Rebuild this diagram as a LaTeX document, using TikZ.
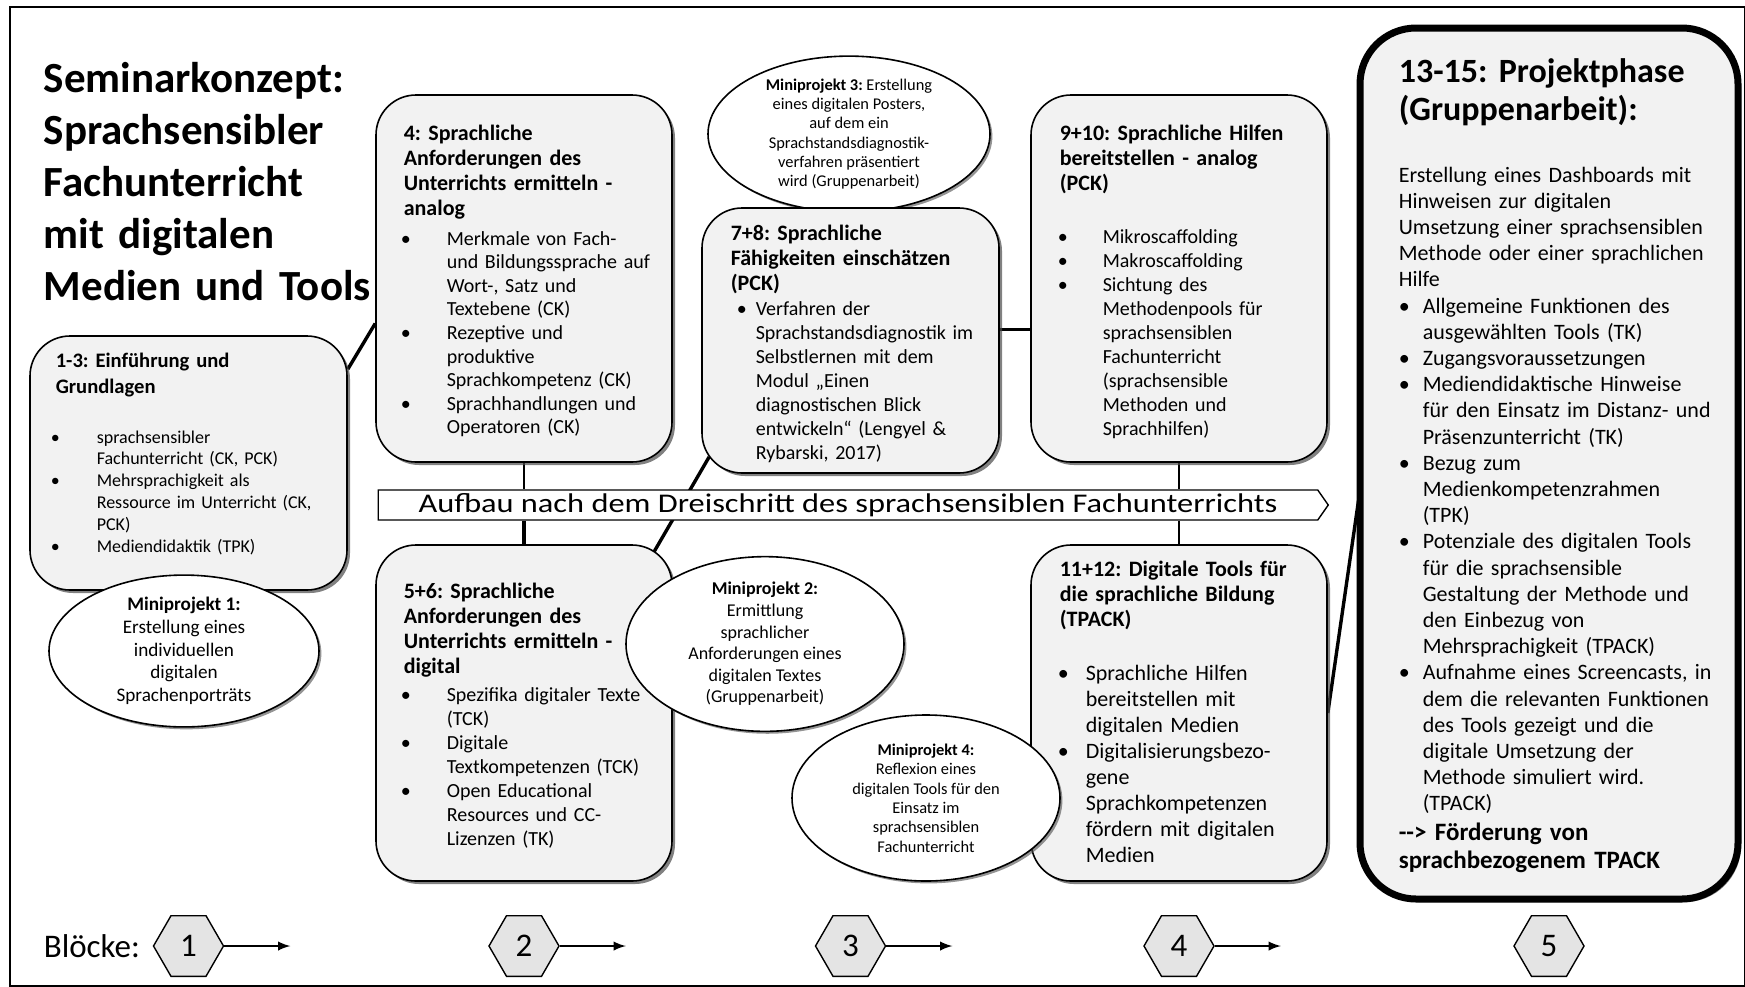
\documentclass[tikz,border=0pt]{standalone}
\usepackage{fontspec}
\setmainfont{Carlito}
\usepackage{graphicx}
\usepackage{tikz}
\usetikzlibrary{arrows,shapes,positioning,shadows,calc,fit,backgrounds}
\usepackage{xcolor}
\definecolor{boxgray}{RGB}{242,242,242}
\definecolor{hexgray}{RGB}{228,228,228}
\newlength{\bulw}
\newcommand{\bpkt}[1]{\makebox[\bulw][l]{\textbullet}#1}
\newcommand{\bweiter}[1]{\hspace*{\bulw}#1}

\begin{document}
\frenchspacing
\begin{tikzpicture}[x=0.5pt, y=-0.5pt, >=latex, thick,
    block/.style={draw, fill=boxgray, rounded corners=20pt, line width=0.8pt, inner sep=0pt,
        drop shadow={shadow xshift=1.5pt, shadow yshift=-1.5pt, opacity=0.7, fill=black!70}},
    mini/.style={draw, ellipse, fill=white, line width=0.8pt, inner sep=0pt, align=center,
        drop shadow={shadow xshift=1.2pt, shadow yshift=-1.2pt, opacity=0.6, fill=black!70}},
    head/.style={anchor=base west, inner sep=0pt, text width=190pt, align=left, font=\fontsize{11}{12.5}\selectfont\bfseries},
    body/.style={anchor=base west, inner sep=0pt, text width=190pt, align=left, font=\fontsize{10}{11.8}\selectfont},
    link/.style={line width=1.7pt},
    hexa/.style={draw, regular polygon, regular polygon sides=6, fill=hexgray, minimum size=35pt, inner sep=0pt, line width=0.7pt, font=\fontsize{16.5}{18}\selectfont}]
    \useasboundingbox (0,0) rectangle (1745,986);

    % title
    \node [anchor=base west, inner sep=0pt, text width=220pt, align=left, font=\fontsize{21.5}{26}\selectfont\bfseries] (titel) at (43,92)
        {Seminarkonzept:\\Sprachsensibler\\Fachunterricht\\mit digitalen\\Medien und Tools};

    % blocks
    \node [block, fit={(30,336) (347,590)}] (b1) {};
    \node [block, fit={(376,95) (672,462)}] (b4) {};
    \node [block, fit={(376,545) (672,881)}] (b56) {};
    \node [mini, minimum width=141pt, minimum height=75pt, font=\fontsize{8.2}{9.6}\selectfont] (m3) at (849,134)
        {\textbf{Miniprojekt 3:} Erstellung\\eines digitalen Posters,\\auf dem ein\\Sprachstandsdiagnostik-\\verfahren präsentiert\\wird (Gruppenarbeit)};
    \node [block, fit={(702,208) (999,473)}] (b78) {};
    \node [block, fit={(1031,95) (1327,462)}] (b910) {};
    \node [block, fit={(1031,545) (1327,881)}] (b1112) {};
    \node [block, line width=3.5pt, rounded corners=28pt, fit={(1360,28) (1738,899)}] (b1315) {};

    % mini projects
    \node [mini, minimum width=135pt, minimum height=66pt, font=\fontsize{9.6}{11.35}\selectfont] (m1) at (184,651)
        {\textbf{Miniprojekt 1:}\\Erstellung eines\\individuellen\\digitalen\\Sprachenporträts};
    \node [mini, minimum width=139pt, minimum height=75pt, font=\fontsize{9}{10.8}\selectfont] (m2) at (765,644)
        {\textbf{Miniprojekt 2:}\\Ermittlung\\sprachlicher\\Anforderungen eines\\digitalen Textes\\(Gruppenarbeit)};
    \node [mini, minimum width=134pt, minimum height=83pt, font=\fontsize{8.2}{9.7}\selectfont] (m4) at (926,798)
        {\textbf{Miniprojekt 4:}\\Reflexion eines\\digitalen Tools für den\\Einsatz im\\sprachsensiblen\\Fachunterricht};

    % texts of the blocks
    \node [head, font=\fontsize{10.3}{13}\selectfont\bfseries] (t1) at (55,367) {1-3: Einführung und\\Grundlagen};
    \node [body, font=\fontsize{9}{10.9}\selectfont] (t1b) at (50,443)
        {\setlength{\bulw}{23pt}\bpkt{sprachsensibler}\\\bweiter{Fachunterricht (CK, PCK)}\\\bpkt{Mehrsprachigkeit als}\\\bweiter{Ressource im Unterricht (CK,}\\\bweiter{PCK)}\\\bpkt{Mediendidaktik (TPK)}};

    \node [head] (t4) at (403,140) {4: Sprachliche\\Anforderungen des\\Unterrichts ermitteln -\\analog};
    \node [body] (t4b) at (400,245)
        {\setlength{\bulw}{23pt}\bpkt{Merkmale von Fach-}\\\bweiter{und Bildungssprache auf}\\\bweiter{Wort-, Satz und}\\\bweiter{Textebene (CK)}\\\bpkt{Rezeptive und}\\\bweiter{produktive}\\\bweiter{Sprachkompetenz (CK)}\\\bpkt{Sprachhandlungen und}\\\bweiter{Operatoren (CK)}};

    \node [head] (t56) at (403,598) {5+6: Sprachliche\\Anforderungen des\\Unterrichts ermitteln -\\digital};
    \node [body, font=\fontsize{10}{12}\selectfont] (t56b) at (400,701)
        {\setlength{\bulw}{23pt}\bpkt{Spezifika digitaler Texte}\\\bweiter{(TCK)}\\\bpkt{Digitale}\\\bweiter{Textkompetenzen (TCK)}\\\bpkt{Open Educational}\\\bweiter{Resources und CC-}\\\bweiter{Lizenzen (TK)}};

    \node [head] (t78) at (730,240) {7+8: Sprachliche\\Fähigkeiten einschätzen\\(PCK)};
    \node [body, font=\fontsize{10}{12.05}\selectfont] (t78b) at (736,315)
        {\setlength{\bulw}{9.5pt}\bpkt{Verfahren der}\\\bweiter{Sprachstandsdiagnostik im}\\\bweiter{Selbstlernen mit dem}\\\bweiter{Modul „Einen}\\\bweiter{diagnostischen Blick}\\\bweiter{entwickeln“ (Lengyel \&}\\\bweiter{Rybarski, 2017)}};

    \node [head] (t910) at (1059,140) {9+10: Sprachliche Hilfen\\bereitstellen - analog\\(PCK)};
    \node [body, font=\fontsize{10}{12}\selectfont] (t910b) at (1057,243)
        {\setlength{\bulw}{22.5pt}\bpkt{Mikroscaffolding}\\\bpkt{Makroscaffolding}\\\bpkt{Sichtung des}\\\bweiter{Methodenpools für}\\\bweiter{sprachsensiblen}\\\bweiter{Fachunterricht}\\\bweiter{(sprachsensible}\\\bweiter{Methoden und}\\\bweiter{Sprachhilfen)}};

    \node [head] (t1112) at (1059,576) {11+12: Digitale Tools für\\die sprachliche Bildung\\(TPACK)};
    \node [body, font=\fontsize{11}{13}\selectfont] (t1112b) at (1057,680)
        {\setlength{\bulw}{14pt}\bpkt{Sprachliche Hilfen}\\\bweiter{bereitstellen mit}\\\bweiter{digitalen Medien}\\\bpkt{Digitalisierungsbezo-}\\\bweiter{gene}\\\bweiter{Sprachkompetenzen}\\\bweiter{fördern mit digitalen}\\\bweiter{Medien}};

    \node [head, font=\fontsize{17}{19}\selectfont\bfseries] (t1315) at (1398,82) {13-15: Projektphase\\(Gruppenarbeit):};
    \node [body, font=\fontsize{11}{13.1}\selectfont] (t1315b) at (1398,182)
        {\setlength{\bulw}{12pt}Erstellung eines Dashboards mit\\Hinweisen zur digitalen\\Umsetzung einer sprachsensiblen\\Methode oder einer sprachlichen\\Hilfe\\
        \bpkt{Allgemeine Funktionen des}\\\bweiter{ausgewählten Tools (TK)}\\\bpkt{Zugangsvoraussetzungen}\\\bpkt{Mediendidaktische Hinweise}\\\bweiter{für den Einsatz im Distanz- und}\\\bweiter{Präsenzunterricht (TK)}\\
        \bpkt{Bezug zum}\\\bweiter{Medienkompetenzrahmen}\\\bweiter{(TPK)}\\\bpkt{Potenziale des digitalen Tools}\\\bweiter{für die sprachsensible}\\\bweiter{Gestaltung der Methode und}\\\bweiter{den Einbezug von}\\\bweiter{Mehrsprachigkeit (TPACK)}\\
        \bpkt{Aufnahme eines Screencasts, in}\\\bweiter{dem die relevanten Funktionen}\\\bweiter{des Tools gezeigt und die}\\\bweiter{digitale Umsetzung der}\\\bweiter{Methode simuliert wird.}\\\bweiter{(TPACK)}};
    \node [head, font=\fontsize{12.5}{14}\selectfont\bfseries] (t1315f) at (1398,840) {-{}-> Förderung von\\sprachbezogenem TPACK};

    % banner
    \node [draw, signal, signal to=east, signal pointer angle=110, fill=white, line width=0.7pt, inner sep=0pt,
        minimum width=475pt, minimum height=15pt] (bn) at (848,505)
        {\scalebox{1.2}[1]{\fontsize{13.5}{14}\selectfont Aufbau nach dem Dreischritt des sprachsensiblen Fachunterrichts}};

    % Bloecke
    \coordinate (reihe) at (0,946);
    \foreach \b/\n in {b1/1,b4/2,b78/3,b910/4,b1315/5}
        \node [hexa] (h\n) at (\b |- reihe) {\n};
    \node [left=6pt of h1, inner sep=0pt, font=\fontsize{16.5}{18}\selectfont] (bl) {Blöcke:};
    \foreach \n in {1,...,4} {
        \path (h\n.east) ++(66,0) coordinate (p\n);
        \draw [->, line width=1.1pt] (h\n.east) -- (p\n);
    }

    % connectors
    \begin{scope}[on background layer]
        \draw [line width=0.6pt] (10,7) rectangle (1745,986);
        \draw [link] ($(b1.north east)+(0,34)$) -- ($(b4.west)+(0,45)$);
        \draw [line width=0.7pt] (b4.south) -- (b4.south |- bn.north);
        \draw [link] (bn.south -| b56.north) -- (b56.north);
        \draw [link] ($(b78.south west)+(8,-17)$) -- ($(b56.north east)+(-19,8)$);
        \coordinate (k1) at ($(b78.east)+(0,-11)$);
        \draw [link] (k1) -- (k1 -| b910.west);
        \draw [line width=1.2pt] (b910.south) -- (b910.south |- bn.north);
        \draw [line width=1.2pt] (bn.south -| b1112.north) -- (b1112.north);
        \draw [link] (b1112.east) -- ($(b1315.west)+(2,37)$);
    \end{scope}
\end{tikzpicture}
\end{document}
